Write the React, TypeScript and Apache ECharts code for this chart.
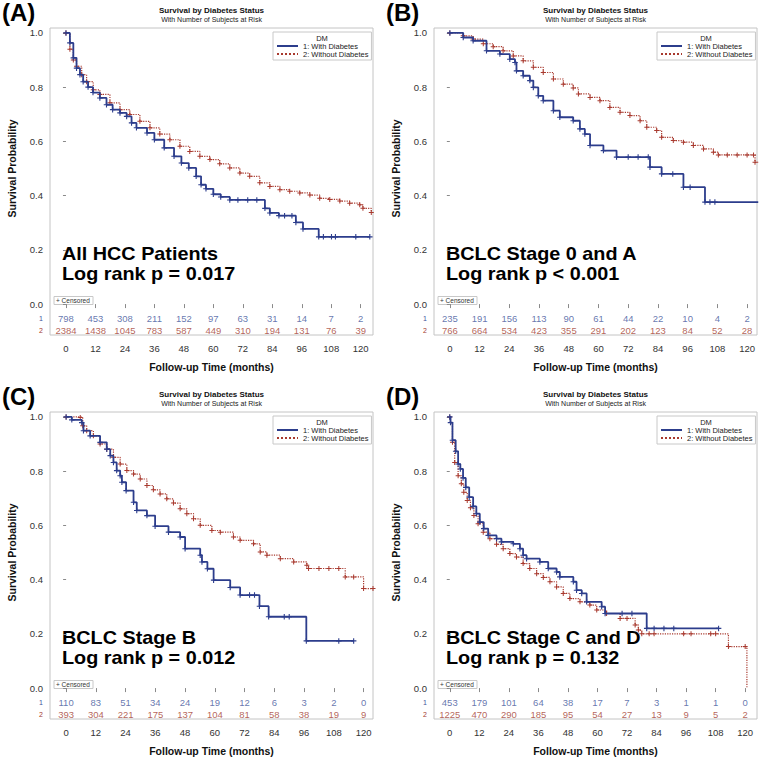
import React, { useEffect, useRef } from "react";
import * as echarts from "echarts";

// ---------- texts ----------
const SERIES_NAMES = ["1: With Diabetes", "2: Without Diabetes"];
const PANEL_LABELS = ["(A)", "(B)", "(C)", "(D)"];
const NOTE_LINE_1 = ["All HCC Patients", "BCLC Stage 0 and A", "BCLC Stage B", "BCLC Stage C and D"];
const NOTE_LINE_2 = ["Log rank p = 0.017", "Log rank p < 0.001", "Log rank p = 0.012", "Log rank p = 0.132"];
const TITLE = "Survival by Diabetes Status";
const SUBTITLE = "With Number of Subjects at Risk";
const X_NAME = "Follow-up Time (months)";
const Y_NAME = "Survival Probability";
const LEGEND_TITLE = "DM";
const CENSOR_LABEL = "+ Censored";

// ---------- ticks ----------
const X_TICKS = [0, 12, 24, 36, 48, 60, 72, 84, 96, 108, 120];
const Y_TICKS = [0, 0.2, 0.4, 0.6, 0.8, 1.0];
const RISK_TIMES = [0, 12, 24, 36, 48, 60, 72, 84, 96, 108, 120];

// ---------- Panel A: All HCC patients ----------
const A_WITH = [
  [0, 1], [1.6, 0.963], [3, 0.908], [4.3, 0.87], [5.7, 0.846], [7, 0.82], [9, 0.8], [11, 0.78],
  [13.8, 0.76], [16.5, 0.735], [19, 0.717], [22, 0.705], [24.7, 0.692], [26.7, 0.668], [28.7, 0.65],
  [33, 0.631], [36, 0.606], [40, 0.576], [44, 0.545], [47, 0.52], [50, 0.502], [53, 0.471], [55, 0.44],
  [57, 0.425], [60, 0.405], [63, 0.395], [66.7, 0.384], [70, 0.384], [74, 0.384], [77.7, 0.384],
  [81, 0.353], [83, 0.336], [86.7, 0.326], [89, 0.326], [92, 0.326], [93.6, 0.301], [96.5, 0.277],
  [102.9, 0.248], [104.8, 0.248], [108.1, 0.248], [109.7, 0.248], [118, 0.248], [123.7, 0.248],
];
const A_WITHOUT = [
  [0, 1], [1.6, 0.94], [3, 0.9], [4.3, 0.877], [6.4, 0.846], [8.4, 0.82], [11.1, 0.79], [13.8, 0.773],
  [17.9, 0.742], [22, 0.717], [26, 0.699], [30.1, 0.674], [34.2, 0.65], [38.2, 0.627], [42.3, 0.606],
  [46.4, 0.582], [50.4, 0.563], [54.5, 0.545], [58.6, 0.533], [62.6, 0.517], [66.7, 0.502], [70.8, 0.483],
  [74.8, 0.471], [78.9, 0.447], [83, 0.434], [87.1, 0.422], [91.1, 0.416], [95.2, 0.41], [99.3, 0.402],
  [103.3, 0.39], [107.4, 0.386], [111.5, 0.38], [115.5, 0.372], [119.6, 0.366], [120.9, 0.353], [124.3, 0.338],
];
const A_RISK_WITH = [798, 453, 308, 211, 152, 97, 63, 31, 14, 7, 2];
const A_RISK_WITHOUT = [2384, 1438, 1045, 783, 587, 449, 310, 194, 131, 76, 39];

// ---------- Panel B: BCLC stage 0 and A ----------
const B_WITH = [
  [0, 1], [5.4, 0.983], [9.4, 0.971], [14.8, 0.934], [20.2, 0.922], [24.2, 0.903], [26.3, 0.891],
  [26.9, 0.86], [29.6, 0.842], [32.3, 0.824], [33.7, 0.799], [35.7, 0.768], [37.7, 0.75], [41.8, 0.713],
  [44.4, 0.689], [49.8, 0.676], [52.5, 0.646], [54.5, 0.627], [56.6, 0.585], [62, 0.566], [67.3, 0.542],
  [72, 0.542], [76, 0.542], [80.1, 0.542], [80.8, 0.505], [85.5, 0.48], [90, 0.48], [94.3, 0.431],
  [97, 0.431], [103, 0.376], [105, 0.376], [107, 0.376], [124.5, 0.376],
];
const B_WITHOUT = [
  [0, 1], [5.4, 0.989], [9.4, 0.977], [13.5, 0.96], [17.5, 0.949], [21.5, 0.934], [25.6, 0.915],
  [29.6, 0.897], [33.7, 0.873], [37.7, 0.854], [41.8, 0.83], [45.8, 0.811], [49.8, 0.797], [51.9, 0.775],
  [56.6, 0.762], [60.6, 0.75], [64.6, 0.725], [68.7, 0.707], [72.7, 0.695], [76.8, 0.676], [79.5, 0.652],
  [83.5, 0.64], [85.5, 0.615], [90.2, 0.603], [94.3, 0.597], [98.3, 0.585], [102.4, 0.572], [106.4, 0.56],
  [108.4, 0.55], [112, 0.55], [116, 0.55], [120, 0.55], [122.6, 0.55], [123.2, 0.523], [124.5, 0.523],
];
const B_RISK_WITH = [235, 191, 156, 113, 90, 61, 44, 22, 10, 4, 2];
const B_RISK_WITHOUT = [766, 664, 534, 423, 355, 291, 202, 123, 84, 52, 28];

// ---------- Panel C: BCLC stage B ----------
const C_WITH = [
  [0, 1], [2.3, 0.989], [6.3, 0.979], [7, 0.949], [9.7, 0.93], [13.7, 0.906], [16.4, 0.881], [17.8, 0.857],
  [19.1, 0.832], [20.4, 0.802], [21.8, 0.783], [22.5, 0.759], [24.2, 0.728], [27.2, 0.685], [28.5, 0.655],
  [32.6, 0.636], [35.9, 0.597], [41.3, 0.575], [46, 0.557], [48, 0.514], [54.1, 0.49], [54.8, 0.465],
  [57, 0.44], [59.5, 0.398], [66.2, 0.371], [70.2, 0.343], [74, 0.343], [76, 0.343], [78, 0.302],
  [81.7, 0.263], [88, 0.263], [90, 0.263], [96.9, 0.174], [110, 0.174], [116, 0.174],
];
const C_WITHOUT = [
  [0, 1], [5.7, 0.998], [6.7, 0.967], [8.3, 0.949], [11, 0.93], [13.7, 0.9], [16.4, 0.881], [19.1, 0.851],
  [21.8, 0.826], [24.5, 0.802], [27.2, 0.789], [29.9, 0.771], [32.6, 0.747], [35.2, 0.731], [37.9, 0.716],
  [40.6, 0.698], [43.3, 0.682], [46, 0.661], [48.7, 0.643], [51.4, 0.624], [54.1, 0.6], [58.8, 0.581],
  [62.2, 0.575], [67.5, 0.557], [70.2, 0.545], [75.6, 0.532], [78.3, 0.502], [81, 0.49], [86.4, 0.477],
  [91.8, 0.465], [97.1, 0.453], [97.8, 0.441], [102, 0.441], [106, 0.441], [110, 0.441], [112.6, 0.41],
  [116, 0.41], [120, 0.367], [123.8, 0.367],
];
const C_RISK_WITH = [110, 83, 51, 34, 24, 19, 12, 6, 3, 2, 0];
const C_RISK_WITHOUT = [393, 304, 221, 175, 137, 104, 81, 58, 38, 19, 9];

// ---------- Panel D: BCLC stage C and D ----------
const D_WITH = [
  [0, 1], [0.3, 0.979], [1.1, 0.914], [2.4, 0.873], [3.4, 0.826], [4.3, 0.808], [5.4, 0.775], [6.5, 0.74],
  [7.9, 0.704], [9.5, 0.67], [10.8, 0.643], [12.2, 0.612], [13.8, 0.588], [15.6, 0.563], [19, 0.551],
  [21, 0.539], [25.8, 0.532], [28.5, 0.514], [29.8, 0.49], [31.2, 0.477], [36.6, 0.465], [40, 0.441],
  [43.4, 0.428], [44.7, 0.41], [50.2, 0.392], [51.5, 0.361], [53.6, 0.349], [55.6, 0.318], [61.7, 0.3],
  [63.1, 0.275], [70, 0.275], [74, 0.275], [80, 0.22], [83, 0.22], [87, 0.22], [91, 0.22], [109.2, 0.22],
];
const D_WITHOUT = [
  [0, 1], [0.3, 0.979], [1.1, 0.906], [2, 0.832], [3.4, 0.783], [4.7, 0.753], [5.7, 0.722], [7.1, 0.692],
  [8.4, 0.665], [9.8, 0.636], [11.5, 0.606], [13.6, 0.575], [16.3, 0.551], [19, 0.53], [21.7, 0.514],
  [24.4, 0.496], [27.1, 0.483], [29.8, 0.459], [32.5, 0.441], [35.3, 0.422], [38, 0.408], [40.7, 0.392],
  [43.4, 0.373], [46.1, 0.349], [48.8, 0.33], [52.9, 0.318], [56.9, 0.306], [59.7, 0.288], [63.7, 0.275],
  [69.2, 0.257], [72, 0.257], [75.3, 0.233], [76.6, 0.214], [78, 0.2], [81, 0.2], [83, 0.2], [95, 0.2],
  [98, 0.2], [106, 0.2], [108, 0.2], [113.2, 0.153], [120, 0.153], [120.7, 0],
];
const D_RISK_WITH = [453, 179, 101, 64, 38, 17, 7, 3, 1, 1, 0];
const D_RISK_WITHOUT = [1225, 470, 290, 185, 95, 54, 27, 13, 9, 5, 2];

// ---------- per-panel axis ranges ----------
const X_MIN = [-6.5, -6.4, -6.5, -6.4];
const X_MAX = [125, 124, 123.8, 124.8];
const Y_MIN = -0.114;
const Y_MAX = 1.018;
const RISK_ROW_1 = -0.053;
const RISK_ROW_2 = -0.096;

// ---------- style ----------
const BLUE = "#2C3D8C";
const BLUE_TEXT = "#40549A";
const RED = "#A8392E";
const RED_TEXT = "#A23A2E";
const FONT = '"Liberation Sans", Arial, Helvetica, sans-serif';
const PLUS = "path://M4,0H6V4H10V6H6V10H4V6H0V4H4Z";
const COL_X = [0, 384, 0, 384];
const ROW_Y = [0, 0, 384, 384];

const WITH_CURVES = [A_WITH, B_WITH, C_WITH, D_WITH];
const WITHOUT_CURVES = [A_WITHOUT, B_WITHOUT, C_WITHOUT, D_WITHOUT];
const RISK_WITH = [A_RISK_WITH, B_RISK_WITH, C_RISK_WITH, D_RISK_WITH];
const RISK_WITHOUT = [A_RISK_WITHOUT, B_RISK_WITHOUT, C_RISK_WITHOUT, D_RISK_WITHOUT];

function near(a: number, b: number) {
  return Math.abs(a - b) < 1e-6;
}

// a drop to zero is an event, not a censored subject: no "+" mark there
function curveData(points: number[][]) {
  return points.map((p) => (p[1] === 0 ? { value: p, symbol: "none" } : p));
}

function buildOption() {
  const grid: any[] = [];
  const xAxis: any[] = [];
  const yAxis: any[] = [];
  const series: any[] = [];
  const legend: any[] = [];
  const title: any[] = [];
  const graphic: any[] = [];

  for (let i = 0; i < 4; i++) {
    const ox = COL_X[i];
    const oy = ROW_Y[i];
    grid.push({
      left: 50 + ox,
      top: 28 + oy,
      width: 323,
      height: 307,
      show: true,
      borderColor: "#c4c4c4",
      borderWidth: 1,
      backgroundColor: "transparent",
    });
    xAxis.push({
      gridIndex: i,
      type: "value",
      min: X_MIN[i],
      max: X_MAX[i],
      axisLine: { show: false },
      splitLine: { show: false },
      axisTick: { show: true, customValues: X_TICKS, length: 4, lineStyle: { color: "#8a8a8a" } },
      axisLabel: { customValues: X_TICKS, margin: 8, fontSize: 9.5, color: "#333", fontFamily: FONT },
      name: X_NAME,
      nameLocation: "middle",
      nameGap: 26,
      nameTextStyle: { fontSize: 10.5, fontWeight: "bold", color: "#111", fontFamily: FONT },
    });
    yAxis.push({
      gridIndex: i,
      type: "value",
      min: Y_MIN,
      max: Y_MAX,
      axisLine: { show: false },
      splitLine: { show: false },
      axisTick: { show: true, customValues: Y_TICKS, length: 3, lineStyle: { color: "#8a8a8a" } },
      axisLabel: {
        customValues: [RISK_ROW_2, RISK_ROW_1, ...Y_TICKS],
        margin: 7,
        fontSize: 9.5,
        color: "#333",
        fontFamily: FONT,
        formatter: (v: number) => {
          if (near(v, RISK_ROW_1)) return "{b|1}";
          if (near(v, RISK_ROW_2)) return "{r|2}";
          return v.toFixed(1);
        },
        rich: {
          b: { color: BLUE_TEXT, fontSize: 7, fontFamily: FONT },
          r: { color: RED_TEXT, fontSize: 7, fontFamily: FONT },
        },
      },
      name: Y_NAME,
      nameLocation: "middle",
      nameGap: 33,
      nameTextStyle: { fontSize: 10.5, fontWeight: "bold", color: "#111", fontFamily: FONT, padding: [0, 0, 0, 26] },
    });

    series.push({
      type: "line",
      name: SERIES_NAMES[1],
      xAxisIndex: i,
      yAxisIndex: i,
      data: curveData(WITHOUT_CURVES[i]),
      step: "end",
      symbol: PLUS,
      symbolSize: 5,
      showSymbol: true,
      lineStyle: { color: RED, width: 1.2, type: "dotted" },
      itemStyle: { color: RED },
      emphasis: { disabled: true },
      silent: true,
      z: 3,
    });
    series.push({
      type: "line",
      name: SERIES_NAMES[0],
      xAxisIndex: i,
      yAxisIndex: i,
      data: curveData(WITH_CURVES[i]),
      step: "end",
      symbol: PLUS,
      symbolSize: 5.5,
      showSymbol: true,
      lineStyle: { color: BLUE, width: 1.8 },
      itemStyle: { color: BLUE },
      emphasis: { disabled: true },
      silent: true,
      z: 4,
    });
    series.push({
      type: "scatter",
      xAxisIndex: i,
      yAxisIndex: i,
      data: RISK_TIMES.map((t, k) => [t, RISK_ROW_1, RISK_WITH[i][k]]),
      symbolSize: 1,
      itemStyle: { color: "rgba(0,0,0,0)" },
      label: {
        show: true,
        position: "inside",
        formatter: (p: any) => String(p.value[2]),
        color: BLUE_TEXT,
        fontSize: 9.5,
        fontFamily: FONT,
      },
      silent: true,
      z: 5,
    });
    series.push({
      type: "scatter",
      xAxisIndex: i,
      yAxisIndex: i,
      data: RISK_TIMES.map((t, k) => [t, RISK_ROW_2, RISK_WITHOUT[i][k]]),
      symbolSize: 1,
      itemStyle: { color: "rgba(0,0,0,0)" },
      label: {
        show: true,
        position: "inside",
        formatter: (p: any) => String(p.value[2]),
        color: RED_TEXT,
        fontSize: 9.5,
        fontFamily: FONT,
      },
      silent: true,
      z: 5,
    });

    legend.push({
      left: 273 + ox,
      top: 32 + oy,
      orient: "vertical",
      data: SERIES_NAMES,
      itemWidth: 21,
      itemHeight: 6,
      itemGap: 0,
      padding: [10, 3, 2, 3],
      borderColor: "#c8c8c8",
      borderWidth: 1,
      selectedMode: false,
      itemStyle: { opacity: 0 },
      textStyle: { fontSize: 7.5, color: "#222", fontFamily: FONT },
    });

    title.push({
      text: TITLE,
      subtext: SUBTITLE,
      left: 211.5 + ox,
      top: 6 + oy,
      textAlign: "center",
      itemGap: 2,
      padding: 0,
      textStyle: { fontSize: 8, fontWeight: "bold", color: "#111", fontFamily: FONT },
      subtextStyle: { fontSize: 7, color: "#222", fontFamily: FONT },
    });

    graphic.push(
      {
        type: "text",
        x: 2 + ox,
        y: 12 + oy,
        style: { text: PANEL_LABELS[i], font: `bold 24px ${FONT}`, fill: "#000", textVerticalAlign: "middle" },
      },
      {
        type: "text",
        x: 62 + ox,
        y: 253.8 + oy,
        scaleX: 1.1,
        style: { text: NOTE_LINE_1[i], font: `bold 18px ${FONT}`, fill: "#000", textVerticalAlign: "middle" },
      },
      {
        type: "text",
        x: 62 + ox,
        y: 273.8 + oy,
        scaleX: 1.1,
        style: { text: NOTE_LINE_2[i], font: `bold 18px ${FONT}`, fill: "#000", textVerticalAlign: "middle" },
      },
      {
        type: "text",
        x: 322 + ox,
        y: 38.5 + oy,
        style: {
          text: LEGEND_TITLE,
          font: `7.5px ${FONT}`,
          fill: "#222",
          textAlign: "center",
          textVerticalAlign: "middle",
        },
      },
      {
        type: "rect",
        shape: { x: 54 + ox, y: 296.5 + oy, width: 39, height: 8 },
        style: { fill: "#fff", stroke: "#c8c8c8", lineWidth: 1 },
      },
      {
        type: "text",
        x: 56 + ox,
        y: 300.6 + oy,
        style: { text: CENSOR_LABEL, font: `6.5px ${FONT}`, fill: "#333", textVerticalAlign: "middle" },
      }
    );
  }

  return {
    animation: false,
    backgroundColor: "#ffffff",
    textStyle: { fontFamily: FONT },
    grid,
    xAxis,
    yAxis,
    series,
    legend,
    title,
    graphic,
  };
}

export default function App() {
  const ref = useRef<HTMLDivElement>(null);
  useEffect(() => {
    if (!ref.current) return;
    const chart = echarts.init(ref.current, undefined, { renderer: "svg" });
    chart.setOption(buildOption() as any);
    return () => chart.dispose();
  }, []);
  return (
    <div
      ref={ref}
      style={{ position: "absolute", left: 0, top: 0, width: 760, height: 759, background: "#fff" }}
    />
  );
}
